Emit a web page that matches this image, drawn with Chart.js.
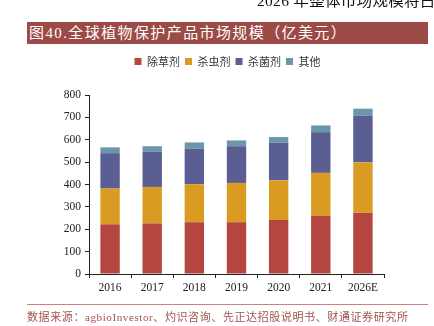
<!DOCTYPE html>
<html>
<head>
<meta charset="utf-8">
<script src="https://cdn.jsdelivr.net/npm/chart.js@4.4.1/dist/chart.umd.min.js"></script>
<style>
  html, body { margin: 0; padding: 0; background: #fff; width: 434px; height: 326px; overflow: hidden; position: relative; }
  #c { position: absolute; left: 0; top: 0; }
  .top-text { position: absolute; left: 257px; top: -7px; font: 15.5px "Liberation Serif", "Noto Sans CJK SC", serif; letter-spacing: 0.3px; color: #111; white-space: nowrap; line-height: 16px; }
  .banner { position: absolute; left: 27px; top: 22px; width: 401px; height: 22px; background: #9c4a46; color: #fff; font: 15px "Liberation Serif", "Noto Sans CJK SC", serif; letter-spacing: 1.4px; line-height: 22px; padding-left: 2px; box-sizing: border-box; white-space: nowrap; }
  .rule { position: absolute; left: 27px; top: 304px; width: 401px; height: 1px; background: #c8847c; }
  .source { position: absolute; left: 27px; top: 310px; font: 11px "Liberation Serif", "Noto Sans CJK SC", serif; letter-spacing: 0.6px; color: #a2544c; white-space: nowrap; line-height: 14px; }
</style>
</head>
<body>
<canvas id="c" width="434" height="326"></canvas>
<div class="top-text">2026 年整体市场规模将占</div>
<div class="banner">图40.全球植物保护产品市场规模（亿美元）</div>
<div class="rule"></div>
<div class="source">数据来源：agbioInvestor、灼识咨询、先正达招股说明书、财通证券研究所</div>
<script>
const categories = ["2016", "2017", "2018", "2019", "2020", "2021", "2026E"];
const herbicide   = [222, 226, 231, 231, 241, 260, 274];
const insecticide = [160, 163, 170, 176, 178, 192, 225];
const fungicide   = [158, 157, 159, 164, 168, 182, 209];
const others      = [26, 25, 28, 26, 25, 30, 31];
const seriesNames = ["除草剂", "杀虫剂", "杀菌剂", "其他"];
const yTicks = { min: 0, max: 800, step: 100 };

const colors = ["#b4463f", "#d99b22", "#5a5e93", "#6a97a9"];
const seriesData = [herbicide, insecticide, fungicide, others];

const legendTweak = {
  id: 'legendTweak',
  beforeLayout(chart) {
    const lg = chart.legend;
    if (lg && !lg._patched) {
      const orig = lg.fit;
      lg.fit = function () { orig.call(this); this.height += 18; };
      lg._patched = true;
    }
  },
  afterLayout(chart) {
    const lg = chart.legend;
    if (lg) { lg.left += 15; lg.right += 15; }
  }
};

new Chart(document.getElementById('c'), {
  type: 'bar',
  data: {
    labels: categories,
    datasets: seriesData.map((d, i) => ({
      label: seriesNames[i],
      data: d,
      backgroundColor: colors[i],
      borderWidth: 0,
      categoryPercentage: 1,
      barPercentage: 0.46
    }))
  },
  options: {
    responsive: false,
    animation: false,
    layout: { padding: { left: 41, right: 50, top: 51, bottom: 0 } },
    plugins: {
      legend: {
        position: 'top',
        labels: {
          boxWidth: 7, boxHeight: 7, padding: 5,
          color: '#333',
          font: { family: '"Noto Sans CJK SC", sans-serif', size: 11 }
        }
      },
      tooltip: { enabled: false }
    },
    scales: {
      x: {
        stacked: true,
        afterFit(s) { s.height = 52; },
        grid: { display: true, drawOnChartArea: false, offset: true, tickLength: 4, color: '#222' },
        border: { display: true, color: '#222', width: 1 },
        ticks: { color: '#222', padding: 3, font: { family: '"Liberation Serif", serif', size: 11.5 } }
      },
      y: {
        stacked: true,
        min: yTicks.min, max: yTicks.max,
        afterFit(s) { s.width = 48; },
        grid: { display: true, drawOnChartArea: false, tickLength: 4, color: '#222' },
        border: { display: true, color: '#222', width: 1 },
        ticks: { stepSize: yTicks.step, color: '#222', padding: 4, font: { family: '"Liberation Serif", serif', size: 11.5 } }
      }
    }
  },
  plugins: [legendTweak]
});
</script>
</body>
</html>
